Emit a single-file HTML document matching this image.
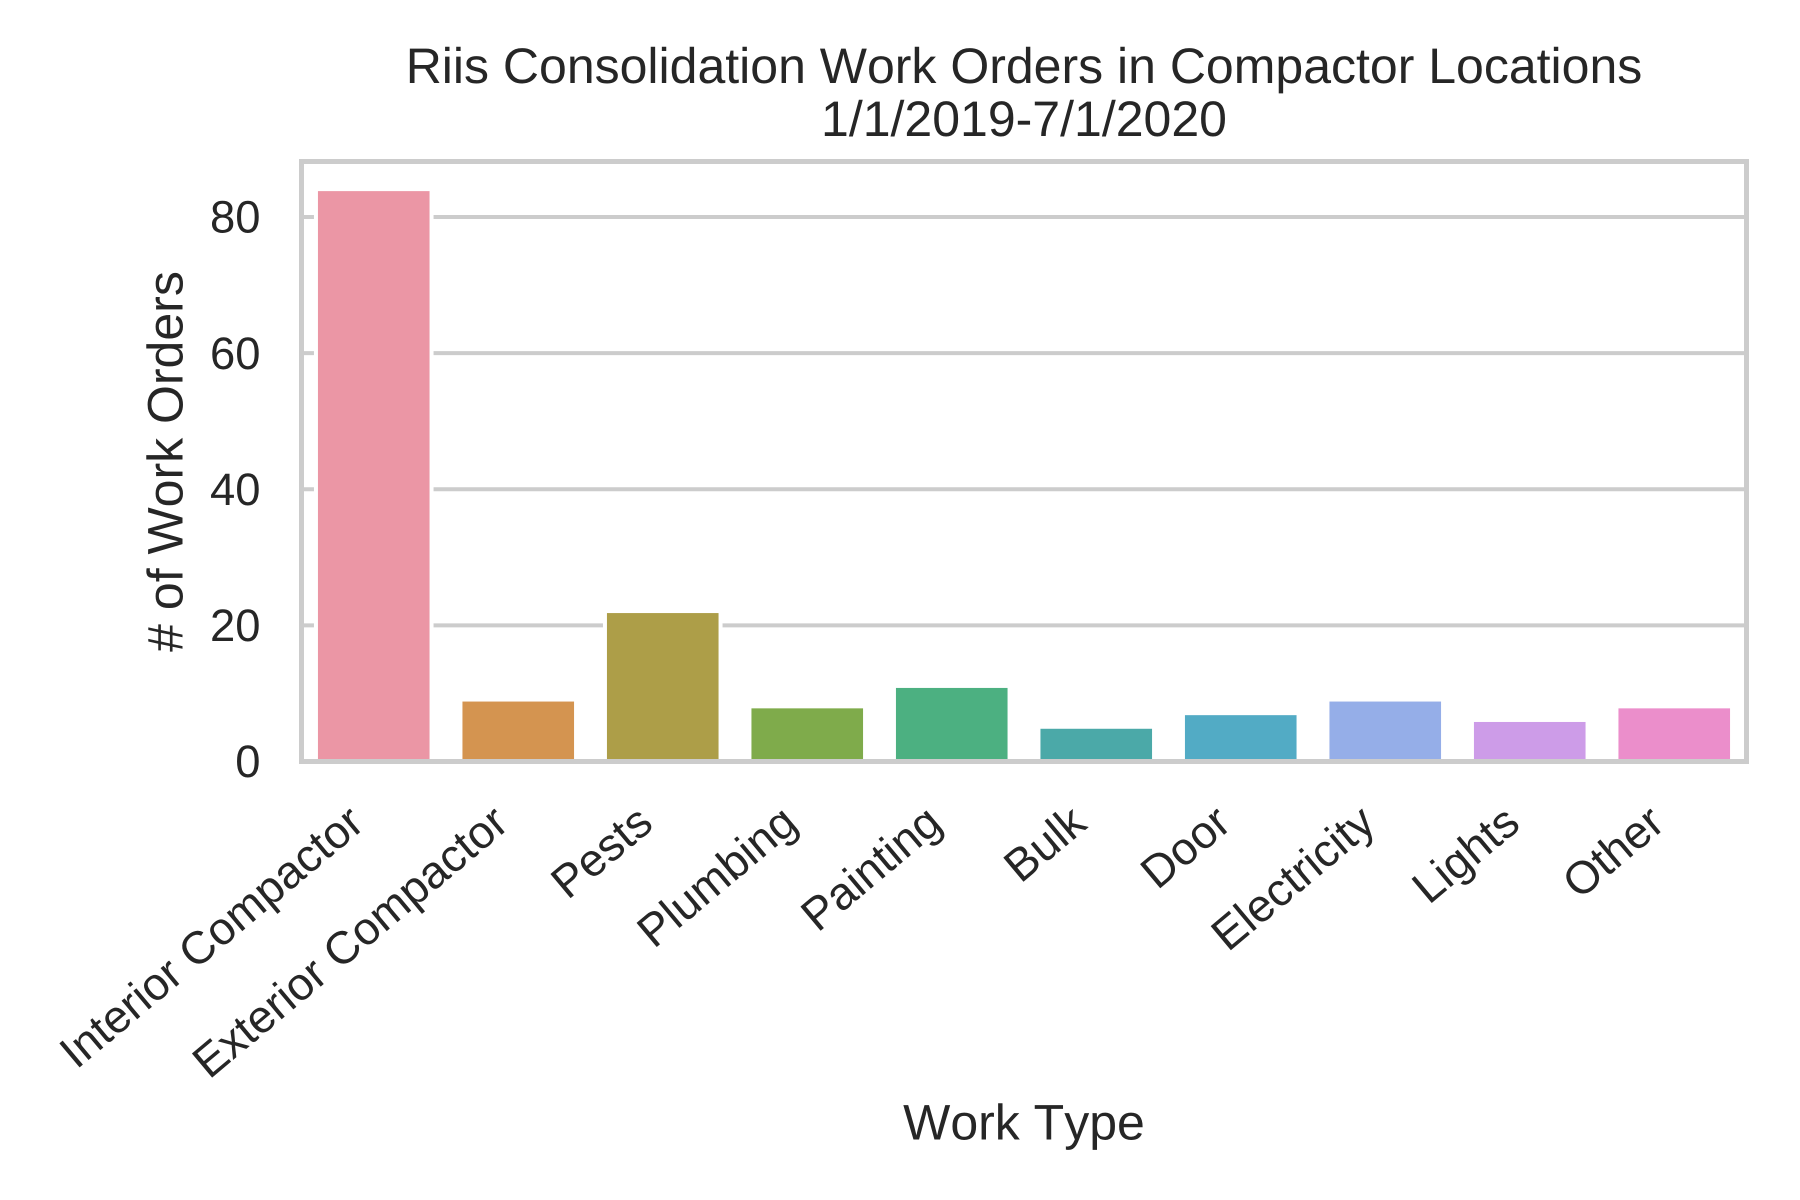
<!DOCTYPE html>
<html><head><meta charset="utf-8"><title>Riis Consolidation Work Orders</title>
<style>
html,body{margin:0;padding:0;background:#fff}
svg{display:block}
text{font-family:"Liberation Sans",Arial,sans-serif;fill:#262626;font-kerning:none;text-rendering:geometricPrecision}
</style></head>
<body>
<svg id="chart" width="1800" height="1200" viewBox="0 0 1800 1200" xmlns="http://www.w3.org/2000/svg">
<rect width="1800" height="1200" fill="#fff"/>
<text x="1024" y="83" text-anchor="middle" font-size="50">Riis Consolidation Work Orders in Compactor Locations</text>
<text x="1024" y="136" text-anchor="middle" font-size="50">1/1/2019-7/1/2020</text>
<text transform="translate(182.5 461.5) rotate(-90)" text-anchor="middle" font-size="50"># of Work Orders</text>
<text x="1024" y="1139.3" text-anchor="middle" font-size="50">Work Type</text>
</svg>
<script>
const categories = ["Interior Compactor","Exterior Compactor","Pests","Plumbing","Painting","Bulk","Door","Electricity","Lights","Other"];
const workOrders = [84,9,22,8,11,5,7,9,6,8];
const yTicks = [0,20,40,60,80];
const barColors = ["#EB96A5","#D49450","#AD9E48","#7FAB4B","#4CB081","#4BA9A8","#52ABC5","#95AEE8","#CD9CE8","#EB8ECB"];

const NS = "http://www.w3.org/2000/svg";
const svg = document.getElementById("chart");
const left = 301.5, right = 1746.5, top_ = 161.5, bottom = 761.5;
const yMax = 88.16;
function xScale(i){ return left + (i + 0.5) * (right - left) / categories.length; }
function yScale(v){ return bottom - v / yMax * (bottom - top_); }
function mk(tag, attrs){
  const el = document.createElementNS(NS, tag);
  for (const k in attrs) el.setAttribute(k, attrs[k]);
  return el;
}
yTicks.forEach(function(t){
  const line = mk("line", {x1:left, x2:right, y1:yScale(t), y2:yScale(t), stroke:"#cccccc", "stroke-width":4});
  
  
  svg.appendChild(line);
  const label = mk("text", {x:260.5, y:yScale(t)+15.7, "text-anchor":"end", "font-size":45.4});
  
  
  label.textContent = t;
  svg.appendChild(label);
});
const bandwidth = (right - left) / categories.length * 0.8;
workOrders.forEach(function(v, i){
  const barTop = yScale(v) - 0.7;
  const bar = mk("rect", {x:xScale(i)-bandwidth/2, y:barTop, width:bandwidth, height:bottom-barTop, fill:barColors[i], stroke:"#ffffff", "stroke-width":4});
  
  
  svg.appendChild(bar);
});
categories.forEach(function(c, i){
  const x = xScale(i) - 7.5, y = 827;
  const label = mk("text", {transform:"translate("+x+" "+y+") rotate(-40)", "text-anchor":"end", "font-size":45.7});
  
  
  label.textContent = c;
  svg.appendChild(label);
});
const frame = mk("rect", {x:left, y:top_, width:right-left, height:bottom-top_, fill:"none", stroke:"#cccccc", "stroke-width":5});


svg.appendChild(frame);
</script>
</body></html>
